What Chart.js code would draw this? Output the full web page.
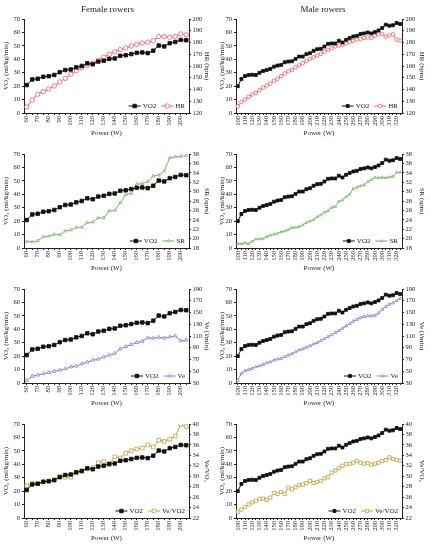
<!DOCTYPE html>
<html>
<head>
<meta charset="utf-8">
<script src="https://cdn.jsdelivr.net/npm/chart.js@4/dist/chart.umd.min.js"></script>
<style>
  body { margin: 0; background: #fff; }
  #wrap { position: relative; width: 431px; height: 550px; overflow: hidden; }
  canvas { position: absolute; }
</style>
</head>
<body>
<div id="wrap">
  <canvas id="f1" width="215" height="140" style="left:0;top:0"></canvas>
  <canvas id="m1" width="216" height="140" style="left:215px;top:0"></canvas>
  <canvas id="f2" width="215" height="140" style="left:0;top:135px"></canvas>
  <canvas id="m2" width="216" height="140" style="left:215px;top:135px"></canvas>
  <canvas id="f3" width="215" height="140" style="left:0;top:270px"></canvas>
  <canvas id="m3" width="216" height="140" style="left:215px;top:270px"></canvas>
  <canvas id="f4" width="215" height="140" style="left:0;top:405px"></canvas>
  <canvas id="m4" width="216" height="140" style="left:215px;top:405px"></canvas>
</div>
<script>
// power steps (W)
var femalePower = [60,65,70,75,80,85,90,95,100,105,110,115,120,125,130,135,140,145,150,155,160,165,170,175,180,185,190,195,200,205];
var malePower = [100,105,110,115,120,125,130,135,140,145,150,155,160,165,170,175,180,185,190,195,200,205,210,215,220,225,230,235,240,245,250,255,260,265,270,275,280,285,290,295,300,305,310,315,320,325];

// female rowers
var femaleVO2 = [20.8,25,25.5,27,27.4,28.3,30.4,32,32.4,34,35,37,36.3,38.3,38.9,40.3,40.6,42.6,43,43.9,44.8,45.1,44.6,46.4,50.2,49.6,52,52.9,54.4,54.2];
var femaleHR = [125.2,131,136,138.2,140.5,143,146.5,149.5,153,156,158.5,160.5,162.5,165,167.5,170,172,174,175.3,177,178.5,179.5,180.3,181.5,185,185,184.5,185.2,187.3,186.5];
var femaleSR = [19.4,19.3,19.5,20.4,20.5,20.9,20.8,21.6,21.8,22.4,22.4,23.4,23.5,24.4,24.4,25.9,26,27.6,29.4,29.6,31.6,31.7,32.1,33.3,33.5,34.4,37.2,37.4,37.5,37.7];
var femaleVe = [34.5,41.5,43.5,46,48,50,51.8,54,57.4,58.8,63,65.5,68.9,70.5,74.5,77.5,80.5,88,92,95.5,99,101,107,106.2,107.7,106.5,108.8,110,101.8,103];
var femaleVeVO2 = [28.2,28.6,28.6,28.9,29.1,29.2,30,29.8,29.8,30.7,31,31.4,31.6,32.6,32.8,32.2,33.7,33.5,34.4,34.9,35.2,35.4,36,35.6,36.9,36.7,37.1,37.7,39.9,39.5];

// male rowers
var maleVO2 = [20,25.3,27.5,28.3,28.5,28.3,30,31.3,32,32.8,34.5,35.3,35.8,37.8,38.3,38.5,40.3,42,42,43.8,44.5,46.3,47.5,47.8,49.5,51.5,51.8,51.8,53.8,52.5,54.5,55.8,57,57.5,58.8,59.3,60,59.3,60.3,61.5,63.3,65.8,65,65.3,67,66.3];
var maleHR = [125.7,129.4,131.4,133.7,135.7,137.1,139.4,141.7,143.4,145.1,147.4,149.1,151.4,153.7,155.4,156.6,158.9,160.6,162.3,164.3,166,167.4,168.9,170.3,172.3,173.7,175.1,176.6,177.4,178,179.1,180.3,181.4,182.6,183.1,184,184.3,184,185.7,187.1,187.4,184.9,186,186.9,182.3,181.7];
var maleSR = [18.9,18.9,19.1,18.9,19.4,19.9,19.9,20,20.4,20.7,20.9,21.1,21.4,21.6,21.9,22.3,22.4,22.5,22.9,23.4,23.7,24,24.6,25,25.6,25.9,26.6,26.8,27.9,28.2,28.9,29.4,30.6,30.9,31.2,31.4,32.1,32.5,33,32.9,33,32.9,33.1,33.2,34.1,34.1];
var maleVe = [34.6,46,50.6,52.9,54.6,57.4,59.1,61.4,64.3,66,68.9,70.6,71.7,74.6,77.4,79.7,83.1,86,88.3,90.6,92.9,96.3,98.6,102,105.4,108.9,111.7,115.7,119,123,127,131,135,138,141,143,144,144,145,149,155,160,164,166,170,174];
var maleVeVO2 = [23.2,23.6,24.1,24.6,25,25.3,25.7,25.7,25.5,25.9,26.8,26.6,27,26.6,27.8,27.5,27.9,28.3,28.4,28.7,29.1,28.7,28.9,29.1,29.6,29.8,30.7,31.1,31.6,32,32.3,32.4,32.6,32.9,32.6,32.4,32.5,32.2,32.4,32.6,32.9,33.1,33.6,33.3,33.1,33];

var FONT = '"Liberation Serif", "DejaVu Serif", serif';
var TXT = '#222';

function drawMarker(ctx, style, x, y, r, fill, stroke){
  ctx.fillStyle = fill;
  ctx.strokeStyle = stroke;
  ctx.lineWidth = 0.8;
  ctx.beginPath();
  if (style === 'rect') {
    var s = r * Math.SQRT1_2;
    ctx.rect(x - s, y - s, 2 * s, 2 * s);
  } else if (style === 'triangle') {
    ctx.moveTo(x, y - r);
    ctx.lineTo(x + r * 0.87, y + r * 0.5);
    ctx.lineTo(x - r * 0.87, y + r * 0.5);
    ctx.closePath();
  } else {
    ctx.arc(x, y, r, 0, Math.PI * 2);
  }
  ctx.fill();
  ctx.stroke();
}

// legend drawn inside the plot, bottom right
var insideLegend = {
  id: 'insideLegend',
  afterDraw: function(chart){
    var ctx = chart.ctx;
    var area = chart.chartArea;
    var y = area.bottom - 7;
    var sample = 12, gap = 2, space = 5;
    var sets = chart.data.datasets;
    ctx.save();
    ctx.font = '7px ' + FONT;
    ctx.textBaseline = 'middle';
    var total = 0;
    sets.forEach(function(ds, i){
      total += sample + gap + ctx.measureText(ds.label).width + (i ? space : 0);
    });
    var x = area.right - 4 - total;
    sets.forEach(function(ds, i){
      if (i) x += space;
      ctx.strokeStyle = ds.borderColor;
      ctx.lineWidth = 1;
      ctx.beginPath();
      ctx.moveTo(x, y);
      ctx.lineTo(x + sample, y);
      ctx.stroke();
      drawMarker(ctx, ds.pointStyle, x + sample / 2, y, ds.pointRadius, ds.pointBackgroundColor, ds.borderColor);
      x += sample + gap;
      ctx.fillStyle = TXT;
      ctx.fillText(ds.label, x, y);
      x += ctx.measureText(ds.label).width;
    });
    ctx.restore();
  }
};

function panel(id, power, vo2, other, o){
  var male = o.male;
  var ctx = document.getElementById(id);
  var chart = new Chart(ctx, {
    type: 'line',
    data: {
      labels: power,
      datasets: [{
        label: 'VO2',
        data: vo2,
        yAxisID: 'y',
        borderColor: '#111',
        borderWidth: 1,
        pointStyle: 'rect',
        pointRadius: male ? 2.1 : 2.5,
        pointBackgroundColor: '#111',
        pointBorderColor: '#111',
        pointBorderWidth: 0.8
      }, {
        label: o.label,
        data: other,
        yAxisID: 'y1',
        borderColor: o.color,
        borderWidth: 1,
        pointStyle: o.marker,
        pointRadius: o.radius,
        pointBackgroundColor: '#fff',
        pointBorderColor: o.color,
        pointBorderWidth: 0.8
      }]
    },
    options: {
      responsive: false,
      animation: false,
      layout: { padding: { top: o.title ? 0 : 19, left: 0, right: 0, bottom: 0 } },
      plugins: {
        legend: { display: false },
        tooltip: { enabled: false },
        title: {
          display: !!o.title,
          text: o.title,
          color: TXT,
          font: { family: FONT, size: 9, weight: 'normal' },
          padding: { top: 4, bottom: 4.2 }
        }
      },
      scales: {
        x: {
          type: 'category',
          offset: true,
          grid: { drawOnChartArea: false, tickLength: 2, color: '#222' },
          border: { color: '#222', width: 1 },
          ticks: {
            autoSkip: false,
            maxRotation: 90,
            minRotation: 90,
            padding: 1,
            color: TXT,
            font: { family: FONT, size: 6.5 },
            callback: function(value){
              var w = this.getLabelForValue(value);
              return w % 10 === 0 ? String(w) : '';
            }
          },
          title: {
            display: true,
            text: 'Power (W)',
            color: TXT,
            font: { family: FONT, size: 7 },
            padding: { top: 0, bottom: 2.8 }
          },
          afterFit: function(s){ s.height = 27; }
        },
        y: {
          position: 'left',
          min: 0, max: 70,
          grid: { drawOnChartArea: false, tickLength: 2, color: '#222' },
          border: { color: '#222', width: 1 },
          ticks: { stepSize: 10, autoSkip: false, padding: 2, color: TXT, font: { family: FONT, size: 6.5 } },
          title: {
            display: true,
            text: 'VO\u2082 (ml/kg/min)',
            color: TXT,
            font: { family: FONT, size: 7 },
            padding: { top: male ? 3.3 : 2.3, bottom: 0 }
          },
          afterFit: function(s){ s.width = male ? 21 : 24; }
        },
        y1: {
          position: 'right',
          min: o.min, max: o.max,
          grid: { drawOnChartArea: false, tickLength: 2, color: '#222' },
          border: { color: '#222', width: 1 },
          ticks: { stepSize: o.step, autoSkip: false, padding: 1.5, color: TXT, font: { family: FONT, size: 6.5 } },
          title: {
            display: true,
            text: o.axis,
            color: TXT,
            font: { family: FONT, size: 7 },
            padding: { top: male ? 4.8 : 4.1, bottom: 0 }
          },
          afterFit: function(s){ s.width = male ? 29 : 26; }
        }
      }
    },
    plugins: [insideLegend]
  });
  return chart;
}

var hr = { label: 'HR', axis: 'HR (bpm)', color: '#ef5b67', marker: 'circle', min: 120, max: 200, step: 10 };
var sr = { label: 'SR', axis: 'SR (spm)', color: '#78b06a', marker: 'triangle', min: 18, max: 38, step: 2 };
var ve = { label: 'Ve', axis: 'Ve (l/min)', color: '#9479c9', marker: 'triangle', min: 30, max: 190, step: 20 };
var vv = { label: 'Ve/VO2', axis: 'Ve/VO\u2082', color: '#b8a443', marker: 'rect', min: 22, max: 40, step: 2 };

function opts(base, extra){
  var r = {};
  for (var k in base) r[k] = base[k];
  for (var j in extra) r[j] = extra[j];
  return r;
}

panel('f1', femalePower, femaleVO2, femaleHR, opts(hr, { title: 'Female rowers', radius: 2.2 }));
panel('m1', malePower, maleVO2, maleHR, opts(hr, { title: 'Male rowers', radius: 1.8, male: true }));
panel('f2', femalePower, femaleVO2, femaleSR, opts(sr, { radius: 1.7 }));
panel('m2', malePower, maleVO2, maleSR, opts(sr, { radius: 1.5, male: true }));
panel('f3', femalePower, femaleVO2, femaleVe, opts(ve, { radius: 2 }));
panel('m3', malePower, maleVO2, maleVe, opts(ve, { radius: 1.7, male: true }));
panel('f4', femalePower, femaleVO2, femaleVeVO2, opts(vv, { radius: 2.6 }));
panel('m4', malePower, maleVO2, maleVeVO2, opts(vv, { radius: 2.3, male: true }));
</script>
</body>
</html>
